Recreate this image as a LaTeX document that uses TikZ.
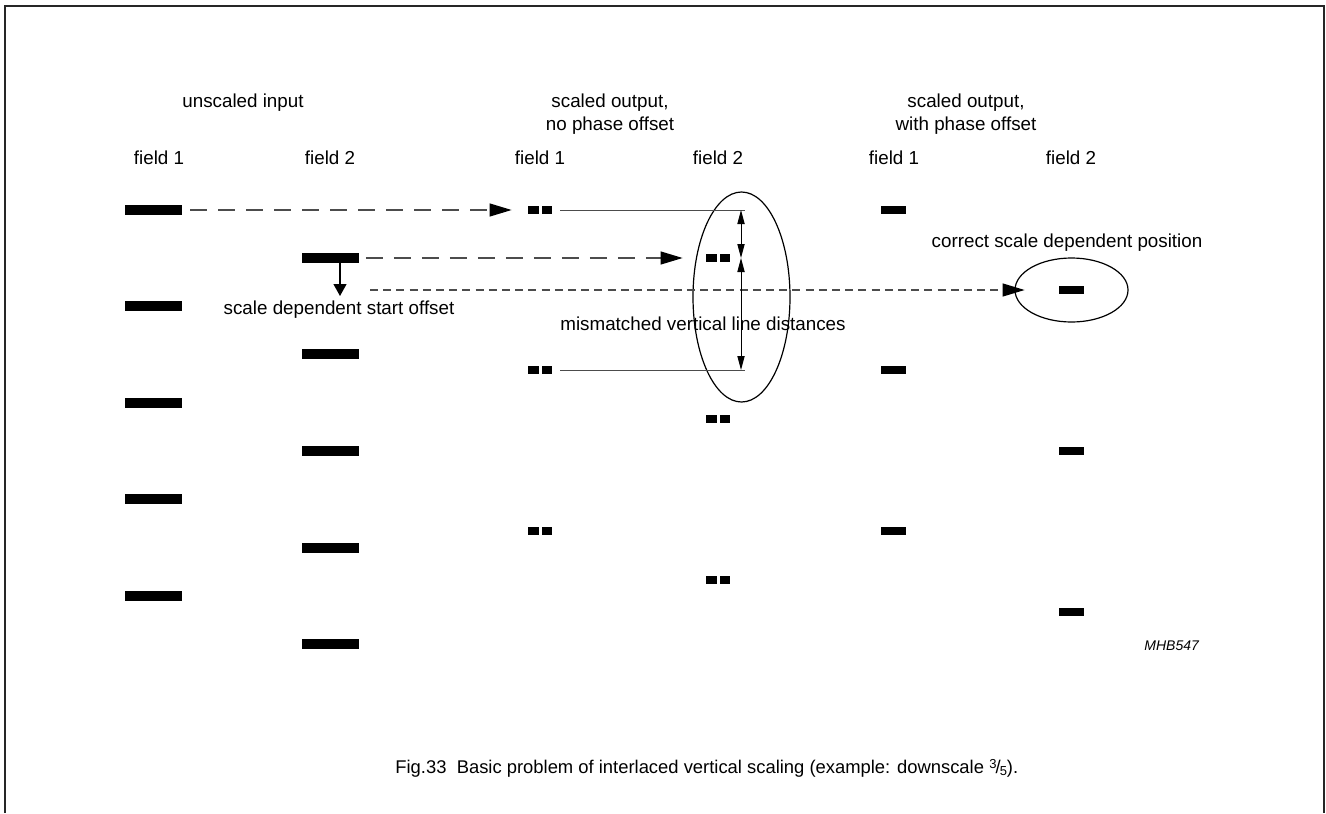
\documentclass[tikz,border=0pt]{standalone}
\usepackage{fontspec}
\setmainfont{Liberation Sans}
\usetikzlibrary{arrows.meta, shapes.geometric}
\definecolor{linegray}{gray}{0.3}

\begin{document}
\begin{tikzpicture}[x=0.5pt, y=-0.5pt,
    lbl/.style={inner sep=0, anchor=base, font=\fontsize{9.4}{11.3}\selectfont},
    bar/.style={fill=black, inner sep=0, minimum width=28.5pt, minimum height=4.6pt},
    sbar/.style={fill=black, inner sep=0, minimum width=12.5pt, minimum height=4pt},
    dots/.style={inner sep=0, minimum width=12pt, minimum height=4pt,
      path picture={
        \fill (path picture bounding box.south west) rectangle ([xshift=5.5pt]path picture bounding box.north west);
        \fill ([xshift=-5pt]path picture bounding box.south east) rectangle (path picture bounding box.north east);}},
    longdash/.style={draw=linegray, line width=0.6pt, dash pattern=on 8.5pt off 5.5pt},
    shortdash/.style={draw=linegray, line width=0.6pt, dash pattern=on 4pt off 2.6pt},
    bigtip/.style={-{Triangle[length=11pt, width=6.5pt, color=black]}},
    dimtip/.style={{Triangle[length=7pt, width=3.6pt]}-{Triangle[length=7pt, width=3.6pt]}},
    ring/.style={draw, ellipse, line width=0.6pt, inner sep=0}]
  \useasboundingbox (0,0) rectangle (1326,813);
  \draw[line width=1.1pt, draw=black!85] (5,813) -- (5,6) -- (1324,6) -- (1324,813);

  % column headers
  \node[lbl] (hin) at (243,107) {unscaled input};
  \node[lbl] (hno1) at (610,107) {scaled output,};
  \node[lbl] (hno2) at (610,130) {no phase offset};
  \node[lbl] (hph1) at (966,107) {scaled output,};
  \node[lbl] (hph2) at (966,130) {with phase offset};
  \foreach \x/\t [count=\i] in {159/1, 330/2, 540/1, 718/2, 894/1, 1071/2}
    \node[lbl] (fld\i) at (\x,164) {field \t};

  % unscaled input lines
  \foreach \y [count=\i] in {210,306,403,499,596}
    \node[bar] (ua\i) at (153.5,\y) {};
  \foreach \y [count=\i] in {258,354,451,548,644}
    \node[bar] (ub\i) at (330,\y) {};

  % scaled output, no phase offset
  \foreach \y [count=\i] in {210,370,531}
    \node[dots] (na\i) at (540,\y) {};
  \foreach \y [count=\i] in {258,419,580}
    \node[dots] (nb\i) at (718,\y) {};

  % scaled output, with phase offset
  \foreach \y [count=\i] in {210,370,531}
    \node[sbar] (pa\i) at (893.5,\y) {};
  \foreach \y [count=\i] in {290,451,612}
    \node[sbar] (pb\i) at (1071.5,\y) {};

  % ellipses
  \node[ring, minimum width=48.5pt, minimum height=105pt] (mism) at (741.5,297) {};
  \node[ring, minimum width=56.5pt, minimum height=32pt] (corr) at (pb1) {};

  % mapping arrows
  \draw[longdash, bigtip, shorten <=4pt, shorten >=8pt] (ua1) -- (na1);
  \draw[longdash, bigtip, shorten <=3.5pt, shorten >=11.5pt] (ub1) -- (nb1);
  \coordinate (off) at (370,290);
  \draw[shortdash, bigtip, shorten >=17pt] (off) -- (pb1);
  \coordinate (offtip) at (340,296);
  \draw[line width=0.6pt, -{Triangle[length=6pt, width=6.5pt]}] (ub1.south -| offtip) -- (offtip);

  % line distances
  \coordinate (d1) at (741,210);
  \coordinate (d3) at (741,370);
  \coordinate (d2) at (d1 |- nb1);
  \draw[draw=linegray, line width=0.5pt, shorten <=4pt] (na1) -- ([xshift=2pt]d1);
  \draw[draw=linegray, line width=0.5pt, shorten <=4pt] (na2) -- ([xshift=2pt]d3);
  \draw[line width=0.5pt, dimtip] (d1) -- (d2);
  \draw[line width=0.5pt, dimtip] (d2) -- (d3);

  % annotations
  \node[lbl] (startoff) at (339,314) {scale dependent start offset};
  \node[lbl] (mislbl) at (703,330) {mismatched vertical line distances};
  \node[lbl] (corrlbl) at (1067,247) {correct scale dependent position};
  \node[lbl, anchor=base west, font=\fontsize{7}{8}\selectfont\itshape] (code) at (1144,650) {MHB547};

  % caption
  \node[inner sep=0, anchor=base west, font=\fontsize{9.2}{11}\selectfont] (cap) at (395,773)
    {Fig.33\ \ Basic problem of interlaced vertical scaling (example: downscale \raisebox{0.45ex}{\fontsize{6.5}{8}\selectfont 3}\kern-0.05em/\kern-0.05em\raisebox{-0.25ex}{\fontsize{6.5}{8}\selectfont 5}).};
\end{tikzpicture}
\end{document}
